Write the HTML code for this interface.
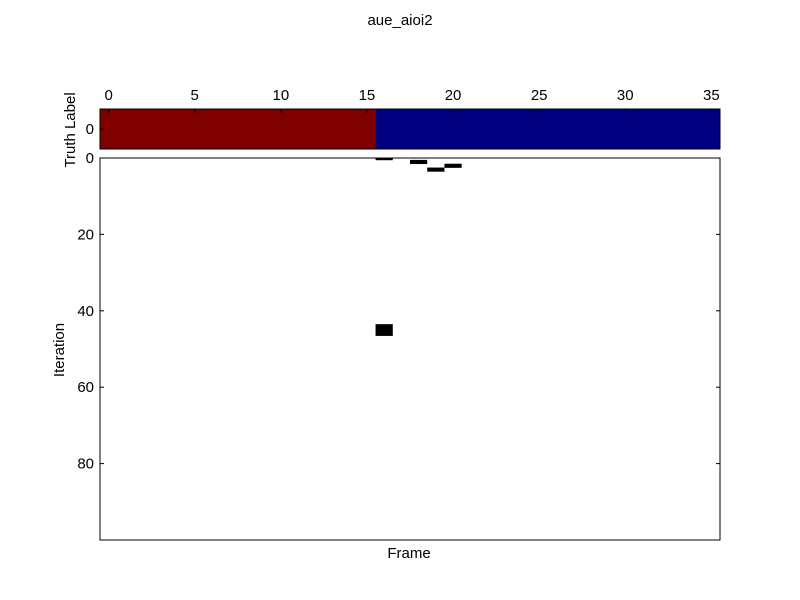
<!DOCTYPE html>
<html><head><meta charset="utf-8"><style>
body{margin:0;background:#fff;}
svg{display:block;font-family:"Liberation Sans",sans-serif;}
</style></head><body>
<svg id="chart" width="800" height="600" xmlns="http://www.w3.org/2000/svg">
<text x="400" y="25" text-anchor="middle" font-size="15">aue_aioi2</text>
<g id="strip"></g>
<g id="main"></g>
<text x="409" y="558" text-anchor="middle" font-size="15">Frame</text>
<text transform="translate(64,350) rotate(-90)" text-anchor="middle" font-size="15">Iteration</text>
<text transform="translate(75,130) rotate(-90)" text-anchor="middle" font-size="15">Truth Label</text>
</svg>
<script>
const truthLabels = [1,1,1,1,1,1,1,1,1,1,1,1,1,1,1,1,0,0,0,0,0,0,0,0,0,0,0,0,0,0,0,0,0,0,0,0];
const frameTicks = [0,5,10,15,20,25,30,35];
const iterTicks = [0,20,40,60,80];
const markFrames = [16,18,20,19,16,16,16];
const markIters = [0,1,2,3,44,45,46];

const NS="http://www.w3.org/2000/svg";
const L=100,R=720,T=158,B=540,ST=109,SB=149;
const nF=truthLabels.length;
const xs=f=>L+(f+0.5)*(R-L)/nF;
const cw=(R-L)/nF;
const ys=i=>T+i*(B-T)/100;
const rh=(B-T)/100;
function mk(tag,attrs,parent){const e=document.createElementNS(NS,tag);for(const k in attrs)e.setAttribute(k,attrs[k]);parent.appendChild(e);return e;}
const strip=document.getElementById('strip'),main=document.getElementById('main');
truthLabels.forEach((v,i)=>{
  const r=mk('rect',{x:xs(i)-cw/2,y:ST,width:cw+0.5,height:SB-ST,fill:v?'#800000':'#000080'},strip);
  
  
});
mk('rect',{x:L,y:ST,width:R-L,height:SB-ST,fill:'none',stroke:'#000'},strip);
frameTicks.forEach(t=>{
  mk('line',{x1:xs(t),x2:xs(t),y1:ST,y2:ST+4,stroke:'#000'},strip);
  const tx=mk('text',{x:xs(t),y:ST-9,'text-anchor':'middle','font-size':15},strip);
  tx.textContent=t;
  
  
});
mk('line',{x1:L,x2:L+4,y1:129,y2:129,stroke:'#000'},strip);
const t0=mk('text',{x:L-6,y:134,'text-anchor':'end','font-size':15},strip);t0.textContent='0';



mk('rect',{x:L,y:T,width:R-L,height:B-T,fill:'#fff'},main);
const clip=mk('clipPath',{id:'cp'},main);mk('rect',{x:L,y:T,width:R-L,height:B-T},clip);
const marks=mk('g',{'clip-path':'url(#cp)'},main);
markFrames.forEach((f,i)=>{
  const r=mk('rect',{x:xs(f)-cw/2,y:ys(markIters[i]-0.5),width:cw,height:rh+0.3,fill:'#000'},marks);
  
  
});
mk('rect',{x:L,y:T,width:R-L,height:B-T,fill:'none',stroke:'#000'},main);
iterTicks.forEach(t=>{
  mk('line',{x1:L,x2:L+4,y1:ys(t),y2:ys(t),stroke:'#000'},main);
  mk('line',{x1:R-4,x2:R,y1:ys(t),y2:ys(t),stroke:'#000'},main);
  const tx=mk('text',{x:L-6,y:ys(t)+5,'text-anchor':'end','font-size':15},main);
  tx.textContent=t;
  
  
});
</script>
</body></html>
